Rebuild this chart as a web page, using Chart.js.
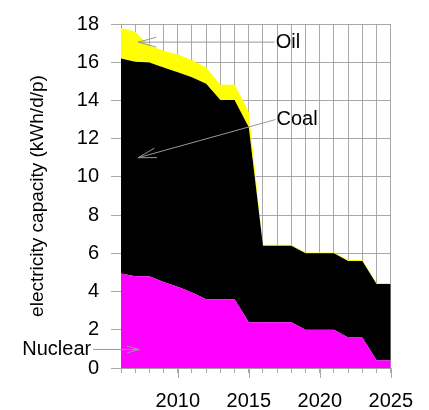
<!DOCTYPE html>
<html>
<head>
<meta charset="utf-8">
<script src="https://cdn.jsdelivr.net/npm/chart.js@4/dist/chart.umd.min.js"></script>
<style>
  html, body { margin: 0; padding: 0; background: #fff; }
</style>
</head>
<body>
<canvas id="capChart" width="429" height="410"></canvas>
<script>
// capacity per source, kWh/d/p (stacked: nuclear, coal, oil)
const years   = [2006, 2007, 2008, 2009, 2010, 2011, 2012, 2013, 2014, 2015,
                 2016, 2017, 2018, 2019, 2020, 2021, 2022, 2023, 2024, 2025];
const nuclear = [4.95, 4.8, 4.8, 4.5, 4.25, 3.95, 3.6, 3.6, 3.6, 2.4,
                 2.4, 2.4, 2.4, 2.0, 2.0, 2.0, 1.6, 1.6, 0.4, 0.4];
const coal    = [11.24, 11.23, 11.18, 11.22, 11.22, 11.26, 11.27, 10.42, 10.42, 10.2,
                 4.0, 4.0, 4.0, 4.0, 4.0, 4.0, 4.0, 4.0, 4.0, 4.0];
const oil     = [1.6, 1.57, 0.9, 0.88, 0.93, 0.9, 0.85, 0.8, 0.8, 0.8,
                 0.05, 0.05, 0.05, 0.05, 0.05, 0.05, 0.05, 0.05, 0.05, 0.05];
const labelYears = [2010, 2015, 2020, 2025];

// arrow labels, in data units
const notes = [
    { text: 'Oil',     at: [2016.9, 17.05], tip: [2007.2, 17.05], head: 19, align: 'left' },
    { text: 'Coal',    at: [2016.95, 13.0], tip: [2007.2, 11.0],  head: 19, align: 'left' },
    { text: 'Nuclear', at: [2003.9, 0.97],  tip: [2007.3, 0.97],  head: 13, align: 'right' }
];

const FONT = '"Liberation Sans", Arial, Helvetica, sans-serif';
const GRID = 'rgba(160,160,160,0.9)';

function pts(values) {
    return years.map((yr, i) => ({ x: yr, y: values[i] }));
}

// long tick marks under the labelled years + arrow annotations
const extras = {
    id: 'extras',
    afterDraw(chart) {
        const { ctx, scales: { x, y } } = chart;
        ctx.save();
        ctx.strokeStyle = GRID;
        ctx.lineWidth = 1;
        labelYears.forEach(yr => {
            const px = Math.round(x.getPixelForValue(yr)) + 0.5;
            ctx.beginPath();
            ctx.moveTo(px, y.bottom);
            ctx.lineTo(px, y.bottom + 10);
            ctx.stroke();
        });

        ctx.font = '20px ' + FONT;
        ctx.textBaseline = 'middle';
        notes.forEach(n => {
            const tx = x.getPixelForValue(n.at[0]);
            const ty = y.getPixelForValue(n.at[1]);
            const px = x.getPixelForValue(n.tip[0]);
            const py = y.getPixelForValue(n.tip[1]);
            ctx.fillStyle = '#000';
            ctx.textAlign = n.align;
            ctx.fillText(n.text, tx, ty);

            const sx = n.align === 'left' ? tx - 1 : tx + 2;
            const ang = Math.atan2(ty - py, sx - px);
            const spread = 15 * Math.PI / 180;
            ctx.strokeStyle = '#999';
            ctx.beginPath();
            ctx.moveTo(sx, ty);
            ctx.lineTo(px, py);
            ctx.moveTo(px + n.head * Math.cos(ang + spread), py + n.head * Math.sin(ang + spread));
            ctx.lineTo(px, py);
            ctx.lineTo(px + n.head * Math.cos(ang - spread), py + n.head * Math.sin(ang - spread));
            ctx.stroke();
        });
        ctx.restore();
    }
};

Chart.defaults.font.family = FONT;
Chart.defaults.color = '#000';

new Chart(document.getElementById('capChart'), {
    type: 'line',
    data: {
        datasets: [
            { label: 'Nuclear', data: pts(nuclear), backgroundColor: '#ff00ff', fill: 'origin' },
            { label: 'Coal',    data: pts(coal),    backgroundColor: '#000000', fill: '-1' },
            { label: 'Oil',     data: pts(oil),     backgroundColor: '#ffff00', fill: '-1' }
        ]
    },
    options: {
        responsive: false,
        animation: false,
        devicePixelRatio: 1,
        elements: { point: { radius: 0 }, line: { borderWidth: 0, tension: 0 } },
        layout: { padding: { top: 17, right: 37, left: 0, bottom: 0 } },
        plugins: { legend: { display: false }, tooltip: { enabled: false } },
        scales: {
            x: {
                type: 'linear',
                min: 2006,
                max: 2025,
                z: 1,
                afterFit(scale) { scale.height = 42; },
                grid: { color: GRID, tickColor: GRID, tickLength: 5 },
                border: { color: GRID },
                ticks: {
                    stepSize: 1,
                    autoSkip: false,
                    maxRotation: 0,
                    padding: 16,
                    font: { size: 20 },
                    callback: v => labelYears.includes(v) ? String(v) : ''
                }
            },
            y: {
                stacked: true,
                min: 0,
                max: 18,
                z: 1,
                afterFit(scale) { scale.width = 121; },
                grid: { color: GRID, tickColor: GRID, tickLength: 10 },
                border: { color: GRID },
                ticks: { stepSize: 2, padding: 12, font: { size: 20 } },
                title: {
                    display: true,
                    text: 'electricity capacity (kWh/d/p)',
                    font: { size: 19 },
                    padding: { top: 26 }
                }
            }
        }
    },
    plugins: [extras]
});
</script>
</body>
</html>
